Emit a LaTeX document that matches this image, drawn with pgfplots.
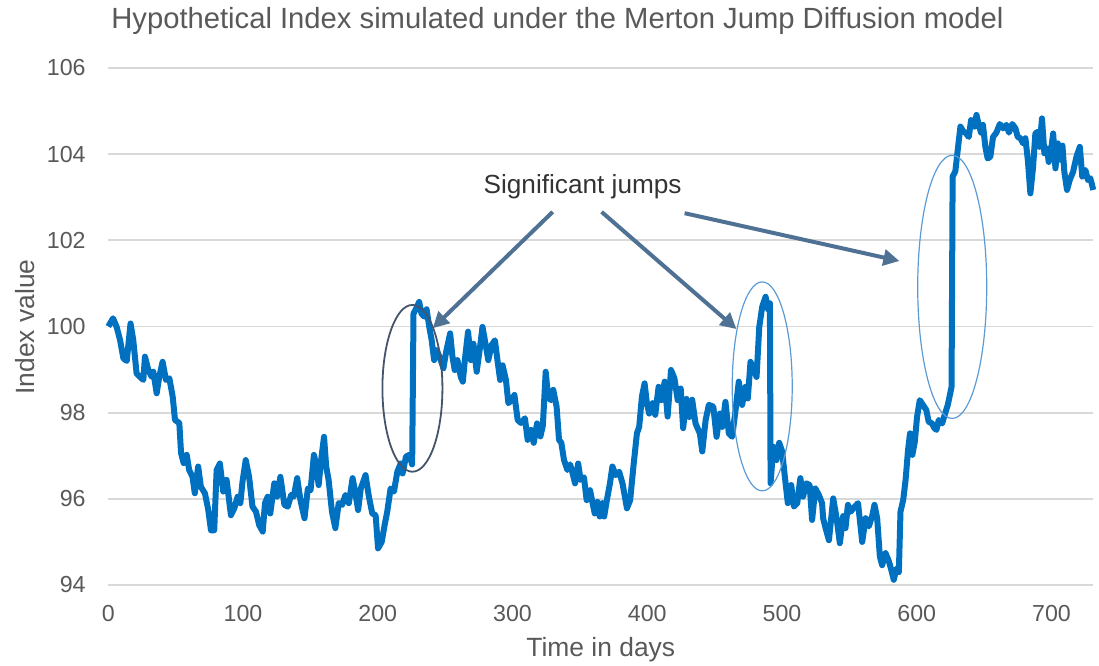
\documentclass[border=0pt]{standalone}
\usepackage{fontspec}
\setmainfont{Liberation Sans}
\usepackage{pgfplots}
\pgfplotsset{compat=1.18}
\usetikzlibrary{arrows.meta,calc}
\definecolor{lineblue}{RGB}{0,112,192}
\definecolor{gridgray}{RGB}{217,217,217}
\definecolor{txtgray}{RGB}{89,89,89}
\definecolor{arrowc}{RGB}{79,113,148}
\definecolor{ellA}{RGB}{68,84,106}
\definecolor{ellB}{RGB}{91,155,213}
\begin{document}
\begin{tikzpicture}
\begin{axis}[
  width=492.5pt, height=258.5pt, scale only axis,
  xmin=0, xmax=731, ymin=94, ymax=106,
  xtick={0,100,...,700}, ytick={94,96,...,106},
  axis line style={draw=none}, major tick length=0pt,
  ymajorgrids, grid style={gridgray, line width=0.9pt},
  tick label style={font=\fontsize{11.6}{13}\selectfont, text=txtgray, inner sep=0pt},
  /pgf/number format/assume math mode=true,
  yticklabel shift=11.15pt,
  xticklabel shift=10pt,
  every axis x label/.style={at={(axis description cs:0.5,-0.1257)}, anchor=center},
  every axis y label/.style={at={(axis description cs:-0.0846,0.499)}, anchor=center, rotate=90},
  label style={font=\fontsize{13.2}{15}\selectfont, text=txtgray},
  xlabel={Time in days},
  ylabel={Index value},
  title={Hypothetical Index simulated under the Merton Jump Diffusion model},
  every axis title shift=0pt,
  every axis title/.style={at={(axis description cs:0.456,1.0909)}, anchor=center, font=\fontsize{14.6}{17}\selectfont, text=txtgray},
  clip=false,
]
\addplot[lineblue, line width=3pt, line join=round, no markers] coordinates {
(0,100.0) (3.5,100.19) (6.2,99.99) (8.7,99.69) (11.2,99.26) (13.7,99.2) (16.5,100.07) (18.5,99.69)
(21.0,98.91) (23.5,98.83) (26.0,98.76) (27.2,99.30) (29.7,98.99) (32.2,98.83) (33.4,98.95) (35.9,98.45)
(37.8,98.83) (40.3,99.18) (42.8,98.76) (45.3,98.8) (47.8,98.37) (49.5,97.83) (52.7,97.76) (54.0,97.06)
(55.9,96.83) (58.2,97.02) (60.0,96.67) (62.5,96.51) (64.2,96.13) (66.7,96.75) (68.7,96.28) (71.7,96.13)
(74.2,95.74) (76.2,95.27) (78.6,95.27) (80.4,96.67) (82.8,96.82) (85.3,96.17) (87.8,96.44) (91.0,95.62)
(93.5,95.78) (96.0,96.05) (98.0,95.9) (99.6,96.40) (102.0,96.9) (104.5,96.51) (107.0,95.82) (109.6,95.70)
(112.0,95.39) (114.6,95.24) (116.3,95.90) (118.3,96.05) (120.2,95.66) (123.2,96.36) (125.2,96.05) (127.7,96.51)
(130.7,95.86) (133.2,95.82) (135.7,96.09) (137.6,96.05) (140.2,96.48) (142.6,95.97) (145.6,95.55) (148.1,96.24)
(150.1,96.2) (152.6,97.02) (154.4,96.78) (156.1,96.32) (158.1,96.94) (160.1,97.44) (161.7,96.75) (163.5,96.44)
(166.0,95.70) (168.5,95.32) (171.0,95.90) (173.5,95.86) (176.0,96.09) (178.5,95.9) (181.3,96.48) (183.0,96.2)
(185.4,95.74) (187.4,96.24) (190.9,96.55) (193.4,96.05) (195.9,95.66) (198.4,95.62) (200.2,94.85) (202.9,95.0)
(205.3,95.43) (207.0,95.70) (209.5,96.24) (212.0,96.17) (214.5,96.63) (217.0,96.82) (218.4,96.59) (220.9,96.98)
(223.4,97.02) (225.5,96.8) (226.5,100.3) (228.2,100.4) (230.7,100.57) (232.4,100.3) (234.4,100.23) (236.2,100.4)
(238.2,99.99) (240.0,99.68) (241.8,99.22) (243.7,99.45) (246.3,99.26) (248.7,99.03) (250.7,99.41) (253.7,99.84)
(255.4,99.3) (257.1,98.99) (259.1,99.22) (261.6,98.83) (263.1,98.72) (264.6,99.22) (267.0,99.88) (269.0,99.22)
(271.0,99.6) (273.4,98.95) (275.9,99.53) (277.7,99.99) (279.7,99.64) (282.0,99.22) (284.5,99.57) (286.9,99.68)
(288.8,99.22) (290.8,98.76) (292.6,99.1) (295.1,98.76) (296.9,98.22) (299.4,98.3) (301.4,98.41) (303.8,97.83)
(306.3,97.76) (309.2,97.87) (311.2,97.37) (313.7,97.6) (315.7,97.3) (318.2,97.75) (320.7,97.45) (322.5,97.7)
(324.6,98.95) (326.4,98.37) (328.4,98.29) (330.2,98.53) (332.7,98.14) (334.5,97.37) (336.2,97.3) (338.2,96.9)
(340.7,96.67) (342.7,96.8) (344.5,96.6) (346.4,96.36) (348.7,96.82) (350.5,96.44) (353.0,96.5) (355.0,95.97)
(357.5,96.2) (359.2,95.93) (361.0,95.66) (363.0,95.93) (364.7,95.59) (366.7,95.9) (368.0,95.59) (370.0,95.97)
(372.3,96.36) (374.1,96.75) (376.6,96.55) (379.1,96.63) (381.6,96.36) (384.9,95.78) (387.3,95.97) (389.8,96.78)
(392.3,97.52) (394.0,97.67) (396.0,98.37) (398.0,98.68) (399.7,98.22) (401.4,97.98) (403.9,98.22) (405.9,97.95)
(408.4,98.6) (410.4,98.29) (412.9,98.72) (415.1,97.91) (417.6,98.99) (420.1,98.8) (422.6,98.29) (424.8,98.56)
(426.6,97.64) (429.1,98.32) (431.2,97.9) (433.3,98.3) (435.8,97.75) (439.0,97.52) (440.8,97.1) (443.3,97.83)
(445.7,98.18) (449.0,98.14) (451.4,97.44) (453.9,97.98) (455.6,97.67) (458.0,98.25) (460.5,97.52) (463.0,97.44)
(465.5,98.06) (467.9,98.72) (470.4,98.18) (472.9,98.6) (474.6,98.33) (476.6,99.18) (479.1,98.99) (481.1,98.83)
(483.1,99.99) (485.3,100.46) (487.8,100.69) (489.6,100.4) (491.0,100.54) (491.5,96.36) (493.5,97.21) (495.9,96.9)
(497.9,97.3) (500.1,97.1) (502.1,96.51) (504.3,95.90) (506.8,96.32) (508.8,95.82) (511.3,95.9) (513.6,96.48)
(515.6,96.05) (518.0,96.36) (520.5,96.32) (522.3,95.51) (524.7,96.24) (527.2,96.1) (529.7,95.9) (530.5,95.55)
(532.5,95.3) (534.8,95.04) (538.0,96.01) (540.5,95.55) (542.9,94.97) (545.4,95.6) (547.1,95.32) (548.9,95.86)
(550.9,95.7) (553.4,95.8) (556.4,95.9) (559.5,95.0) (562.0,95.55) (564.4,95.36) (566.9,95.6) (568.6,95.86)
(570.6,95.55) (572.6,94.66) (574.3,94.46) (576.8,94.74) (579.3,94.55) (581.0,94.36) (582.9,94.12) (584.9,94.38)
(586.7,94.3) (587.9,95.70) (589.9,95.97) (591.7,96.44) (593.5,97.13) (595.0,97.52) (596.7,97.02) (598.5,97.32)
(600.2,97.9) (602.2,98.29) (604.6,98.18) (607.1,98.06) (608.8,97.79) (611.3,97.75) (613.1,97.64) (614.6,97.6)
(616.3,97.83) (618.8,97.75) (621.2,98.0) (623.0,98.18) (624.5,98.4) (625.8,98.6) (626.6,103.48) (628.6,103.6)
(630.4,104.1) (632.4,104.64) (634.4,104.53) (636.1,104.5) (638.6,104.4) (640.3,104.79) (642.8,104.64) (644.3,104.91)
(646.0,104.68) (647.7,104.5) (649.1,104.68) (650.9,104.17) (652.6,103.9) (654.6,103.94) (656.6,104.4) (659.1,104.5)
(661.6,104.7) (664.0,104.6) (666.5,104.68) (668.4,104.5) (670.9,104.7) (673.2,104.6) (674.9,104.4) (676.9,104.37)
(678.9,104.25) (680.6,104.37) (682.4,103.87) (684.3,103.09) (686.3,103.7) (688.0,104.48) (689.8,104.52) (691.2,104.17)
(692.9,104.83) (694.7,104.02) (696.7,104.13) (697.9,103.82) (699.7,104.1) (701.2,104.48) (702.9,103.67) (704.7,104.25)
(706.7,103.87) (708.1,104.2) (709.5,103.59) (711.5,103.17) (713.5,103.4) (716.0,103.59) (718.5,103.94) (721.0,104.17)
(722.8,103.48) (725.2,103.63) (727.0,103.4) (728.8,103.44) (731.0,103.17)
};
\node[font=\fontsize{13.1}{15}\selectfont, text=black!80] at (axis cs:352,103.24) {Significant jumps};
\draw[arrowc, line width=2pt, -{Triangle[length=8pt,width=8pt]}] (axis cs:329.8,102.66) -- (axis cs:240.8,99.96);
\draw[arrowc, line width=2pt, -{Triangle[length=8pt,width=8pt]}] (axis cs:366.1,102.66) -- (axis cs:466.2,99.94);
\draw[arrowc, line width=2pt, -{Triangle[length=8pt,width=8pt]}] (axis cs:427.7,102.63) -- (axis cs:587.1,101.52);
\draw[ellA, line width=0.9pt] (axis cs:225.7,98.565) ellipse [x radius=15pt, y radius=41.7pt];
\draw[ellB, line width=0.6pt] (axis cs:485.3,98.61) ellipse [x radius=15pt, y radius=52.25pt];
\draw[ellB, line width=0.6pt] (axis cs:626.3,100.92) ellipse [x radius=17.25pt, y radius=65.8pt];
\end{axis}
\pgfresetboundingbox
\path ($(current axis.south west)+(-54.15pt,-40pt)$) rectangle ($(current axis.north east)+(2.85pt,34pt)$);
\end{tikzpicture}
\end{document}
